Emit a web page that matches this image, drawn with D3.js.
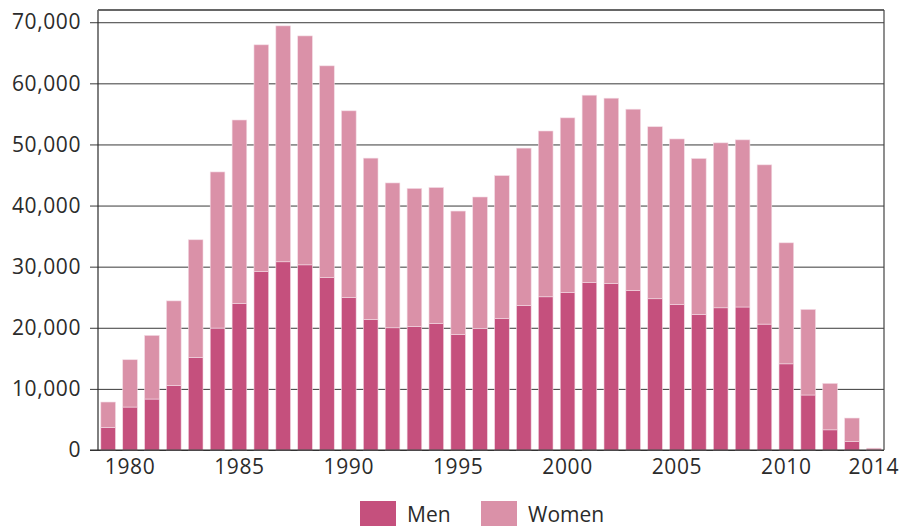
<!DOCTYPE html>
<html>
<head>
<meta charset="utf-8">
<script src="https://cdn.jsdelivr.net/npm/d3@7"></script>
<style>
  body { margin: 0; background: #fff; }
  text { font-family: "Open Sans", sans-serif; fill: #2b2b2b; }
</style>
</head>
<body>
<div id="chart"></div>
<script>
// data
var years = d3.range(1979, 2015);
var men = [3700, 7030, 8340, 10570, 15150, 19950, 23980, 29200, 30800, 30300,
           28200, 24960, 21360, 20000, 20200, 20700, 18900, 19900, 21500, 23650,
           25070, 25800, 27400, 27250, 26100, 24750, 23800, 22200, 23270, 23400,
           20600, 14100, 9000, 3300, 1380, 0];
var women = [4150, 7740, 10410, 13830, 19250, 25550, 30020, 37100, 38600, 37460,
             34660, 30540, 26400, 23700, 22600, 22250, 20200, 21500, 23400, 25750,
             27130, 28550, 30660, 30320, 29670, 28150, 27100, 25500, 26990, 27350,
             26060, 19800, 14000, 7600, 3850, 300];
var yTicks = [0, 10000, 20000, 30000, 40000, 50000, 60000, 70000];
var xTickYears = [1980, 1985, 1990, 1995, 2000, 2005, 2010, 2014];
var seriesNames = ['Men', 'Women'];
var colors = ['#c5507d', '#da91a8'];

var W = 901, H = 526;
var margin = {left: 98, right: 884, top: 10, bottom: 450};
var fontSize = '21px';

var svg = d3.select('#chart').append('svg')
  .attr('width', W)
  .attr('height', H);

var x = d3.scaleBand()
  .domain(years)
  .range([margin.left, margin.right])
  .paddingInner(0.33)
  .paddingOuter(0.13);

var y = d3.scaleLinear()
  .domain([0, 72000])
  .range([margin.bottom, margin.top]);

// gridlines + y labels
var yAxis = svg.append('g')
  .attr('transform', 'translate(' + margin.right + ',0)')
  .call(d3.axisLeft(y)
    .tickValues(yTicks)
    .tickSize(margin.right - margin.left + 8)
    .tickPadding(9)
    .tickFormat(d3.format(',')));
yAxis.select('.domain').remove();
yAxis.selectAll('line').attr('stroke', '#3a3a3a').attr('stroke-width', 1);
yAxis.selectAll('text')
  .style('font-size', fontSize)
  .style('font-family', '"Open Sans", sans-serif')
  .style('letter-spacing', '0.6px')
  .attr('fill', '#2b2b2b');

// stacked bars
var rows = years.map(function(yr, i) { return {year: yr, Men: men[i], Women: women[i]}; });
var stacked = d3.stack().keys(seriesNames)(rows);

svg.append('g').selectAll('g')
  .data(stacked)
  .enter().append('g')
    .attr('fill', function(d, i) { return colors[i]; })
  .selectAll('rect')
  .data(function(d) { return d; })
  .enter().append('rect')
    .attr('x', function(d) { return x(d.data.year); })
    .attr('y', function(d) { return y(d[1]); })
    .attr('width', x.bandwidth())
    .attr('height', function(d) { return Math.max(0, y(d[0]) - y(d[1])); })
    .attr('stroke', '#f3dbe4')
    .attr('stroke-width', 0.6);

// frame: left axis, bottom, top, right
svg.append('line').attr('x1', margin.left).attr('x2', margin.left)
  .attr('y1', margin.top).attr('y2', margin.bottom)
  .attr('stroke', '#2b2b2b').attr('stroke-width', 1.2);
svg.append('line').attr('x1', margin.left - 8).attr('x2', margin.right)
  .attr('y1', margin.bottom).attr('y2', margin.bottom)
  .attr('stroke', '#2b2b2b').attr('stroke-width', 1.2);
svg.append('line').attr('x1', margin.left).attr('x2', margin.right)
  .attr('y1', margin.top).attr('y2', margin.top)
  .attr('stroke', '#666').attr('stroke-width', 2);
svg.append('line').attr('x1', margin.right).attr('x2', margin.right)
  .attr('y1', margin.top).attr('y2', margin.bottom)
  .attr('stroke', '#444').attr('stroke-width', 1.2);

// x labels
var xAxis = svg.append('g')
  .attr('transform', 'translate(0,' + margin.bottom + ')')
  .call(d3.axisBottom(x).tickValues(xTickYears).tickSize(0).tickPadding(9));
xAxis.select('.domain').remove();
xAxis.selectAll('text')
  .style('font-size', fontSize)
  .style('font-family', '"Open Sans", sans-serif')
  .style('letter-spacing', '0.6px')
  .attr('fill', '#2b2b2b');

// legend
var legendX = [360, 481];
var legend = svg.append('g').selectAll('g')
  .data(seriesNames)
  .enter().append('g')
    .attr('transform', function(d, i) { return 'translate(' + legendX[i] + ',501)'; });
legend.append('rect')
  .attr('width', 36).attr('height', 25)
  .attr('fill', function(d, i) { return colors[i]; });
legend.append('text')
  .attr('x', 47).attr('y', 21)
  .style('font-size', fontSize)
  .text(function(d) { return d; });
</script>
</body>
</html>
